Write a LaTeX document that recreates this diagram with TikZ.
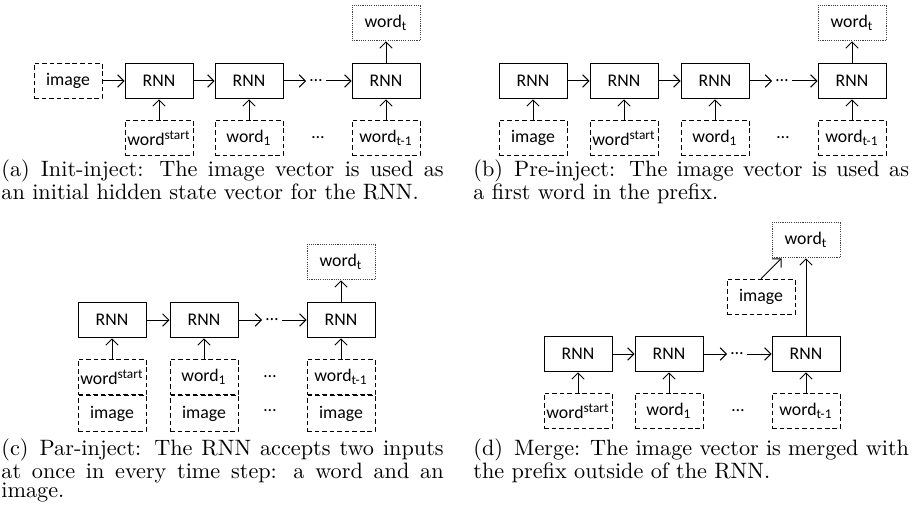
\documentclass[tikz,border=0pt]{standalone}
\usepackage{fontspec}
\newfontfamily\boxfont{Carlito}
\usetikzlibrary{arrows.meta}

\tikzset{
  rnn/.style={draw, line width=0.45pt, minimum width=30.6pt, minimum height=16pt,
    inner sep=0pt, font=\boxfont\fontsize{8}{9}\selectfont},
  inbox/.style={rnn, dash pattern=on 2.1pt off 1.3pt},
  outbox/.style={rnn, draw=black!75, dash pattern=on 0.5pt off 0.5pt},
  dotsnode/.style={font=\boxfont\fontsize{8}{9}\selectfont, inner sep=1.5pt},
  link/.style={-{Straight Barb[length=2.8pt,width=5.6pt]}, line width=0.45pt},
  capl/.style={anchor=base west, inner sep=0pt, text width=199pt, align=justify,
    font=\fontsize{10}{8.7}\selectfont},
  capr/.style={capl, text width=196pt}
}

\begin{document}
\begin{tikzpicture}[x=0.45pt, y=-0.45pt]
  \useasboundingbox (0,0) rectangle (913,510);

  % (a) Init-inject
  \node[inbox] (aimg) at (68,81) {image};
  \node[rnn] (a1) at (159,81) {RNN};
  \node[rnn] (a2) at (249,81) {RNN};
  \node[dotsnode] (adots) at (316,81) {\dots};
  \node[rnn] (a3) at (386,81) {RNN};
  \node[outbox] (awt) at (386,23) {word\textsubscript{t}};
  \node[inbox] (aw0) at (159,138) {word\textsuperscript{start}};
  \node[inbox] (aw1) at (249,138) {word\textsubscript{1}};
  \node[dotsnode] (awdots) at (318,138) {\dots};
  \node[inbox] (aw2) at (386,138) {word\textsubscript{t-1}};
  \draw[link] (aimg) -- (a1);
  \draw[link] (a1) -- (a2);
  \draw[link] (a2) -- (adots);
  \draw[link] (adots) -- (a3);
  \draw[link] (a3) -- (awt);
  \draw[link] (aw0) -- (a1);
  \draw[link] (aw1) -- (a2);
  \draw[link] (aw2) -- (a3);
  \node[capl] (acap) at (1,176) {(a)\hspace{0.5em}Init-inject: The image vector is used as\linebreak
    an initial hidden state vector for the RNN.};

  % (b) Pre-inject
  \node[rnn] (b1) at (533,81) {RNN};
  \node[rnn] (b2) at (624,81) {RNN};
  \node[rnn] (b3) at (715,81) {RNN};
  \node[dotsnode] (bdots) at (782,81) {\dots};
  \node[rnn] (b4) at (852,81) {RNN};
  \node[outbox] (bwt) at (852,23) {word\textsubscript{t}};
  \node[inbox] (bimg) at (533,138) {image};
  \node[inbox] (bw0) at (624,138) {word\textsuperscript{start}};
  \node[inbox] (bw1) at (715,138) {word\textsubscript{1}};
  \node[dotsnode] (bwdots) at (783,138) {\dots};
  \node[inbox] (bw2) at (852,138) {word\textsubscript{t-1}};
  \draw[link] (b1) -- (b2);
  \draw[link] (b2) -- (b3);
  \draw[link] (b3) -- (bdots);
  \draw[link] (bdots) -- (b4);
  \draw[link] (b4) -- (bwt);
  \draw[link] (bimg) -- (b1);
  \draw[link] (bw0) -- (b2);
  \draw[link] (bw1) -- (b3);
  \draw[link] (bw2) -- (b4);
  \node[capr] (bcap) at (473,176) {(b)\hspace{0.5em}Pre-inject: The image vector is used as\linebreak
    a first word in the prefix.};

  % (c) Par-inject
  \node[rnn] (c1) at (112,320) {RNN};
  \node[rnn] (c2) at (204,320) {RNN};
  \node[dotsnode] (cdots) at (272,320) {\dots};
  \node[rnn] (c3) at (341,320) {RNN};
  \node[outbox] (cwt) at (341,262) {word\textsubscript{t}};
  \node[inbox] (cw0) at (112,377) {word\textsuperscript{start}};
  \node[inbox] (cw1) at (204,377) {word\textsubscript{1}};
  \node[dotsnode] (cwdots) at (270,377) {\dots};
  \node[inbox] (cw2) at (341,377) {word\textsubscript{t-1}};
  \node[inbox, anchor=north] (ci0) at (cw0.south) {image};
  \node[inbox, anchor=north] (ci1) at (cw1.south) {image};
  \node[dotsnode] (cidots) at (270,411) {\dots};
  \node[inbox, anchor=north] (ci2) at (cw2.south) {image};
  \draw[link] (c1) -- (c2);
  \draw[link] (c2) -- (cdots);
  \draw[link] (cdots) -- (c3);
  \draw[link] (c3) -- (cwt);
  \draw[link] (cw0) -- (c1);
  \draw[link] (cw1) -- (c2);
  \draw[link] (cw2) -- (c3);
  \node[capl] (ccap) at (1,455) {(c)\hspace{0.5em}Par-inject: The RNN accepts two inputs\linebreak
    at once in every time step: a word and an\linebreak image.};

  % (d) Merge
  \node[rnn] (d1) at (578,354) {RNN};
  \node[rnn] (d2) at (669,354) {RNN};
  \node[dotsnode] (ddots) at (737,354) {\dots};
  \node[rnn] (d3) at (806,354) {RNN};
  \node[outbox] (dwt) at (806,240) {word\textsubscript{t}};
  \node[inbox] (dimg) at (761,297) {image};
  \node[inbox] (dw0) at (578,411) {word\textsuperscript{start}};
  \node[inbox] (dw1) at (669,411) {word\textsubscript{1}};
  \node[dotsnode] (dwdots) at (738,411) {\dots};
  \node[inbox] (dw2) at (806,411) {word\textsubscript{t-1}};
  \draw[link] (d1) -- (d2);
  \draw[link] (d2) -- (ddots);
  \draw[link] (ddots) -- (d3);
  \draw[link] (d3) -- (dwt);
  \draw[link] (dimg.north) -- ([xshift=4.5pt]dwt.south west);
  \draw[link] (dw0) -- (d1);
  \draw[link] (dw1) -- (d2);
  \draw[link] (dw2) -- (d3);
  \node[capr] (dcap) at (473,455) {(d)\hspace{0.5em}Merge: The image vector is merged with\linebreak
    the prefix outside of the RNN.};
\end{tikzpicture}
\end{document}
